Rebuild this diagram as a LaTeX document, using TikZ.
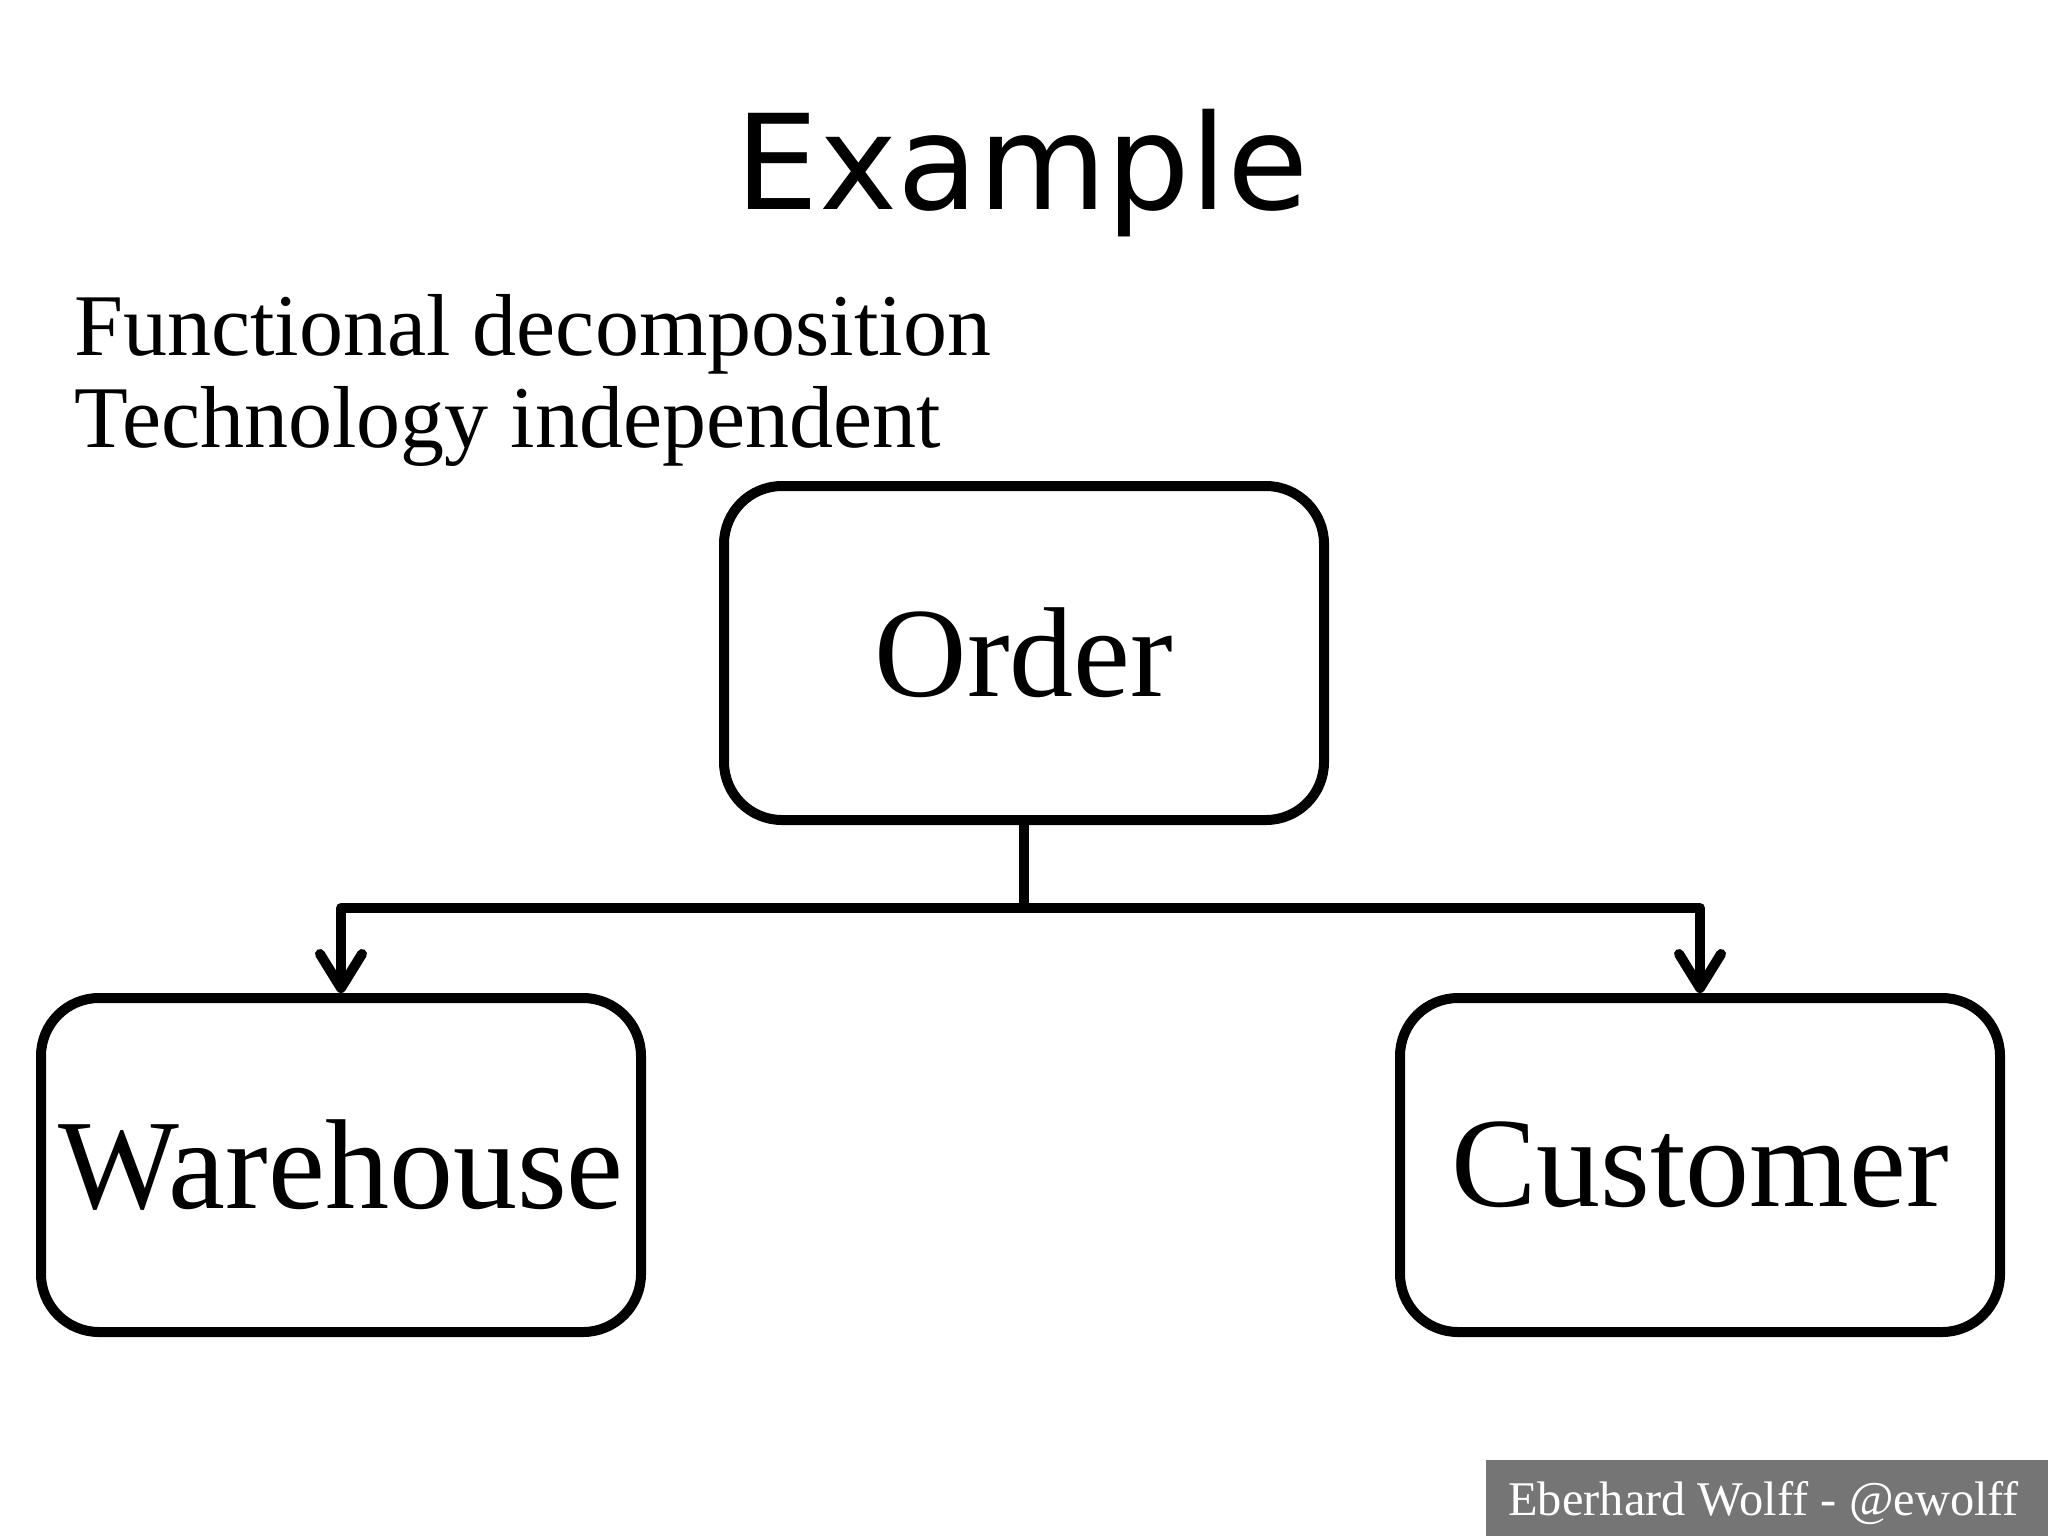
\documentclass[tikz,border=0pt]{standalone}
\usepackage{fontspec}
\setmainfont{Liberation Serif}
\newfontfamily\titlefont{DejaVu Sans}
\usetikzlibrary{arrows.meta,shadows}
\begin{document}
\begin{tikzpicture}[
	x=0.5pt, y=-0.5pt,
	line join=round, line cap=round,
	title/.style={font=\titlefont\fontsize{66}{80}\selectfont, inner sep=0pt},
	bullet/.style={font=\fontsize{44}{52}\selectfont, inner sep=0pt, anchor=base west},
	module/.style={draw, line width=5pt, rounded corners=29pt, fill=white,
		minimum width=300pt, minimum height=167pt, inner sep=0pt,
		font=\fontsize{64}{72}\selectfont,
		drop shadow={shadow xshift=1.2pt, shadow yshift=-1.2pt, opacity=0.25, fill=black}},
	uses/.style={line width=5pt, -{Straight Barb[length=17pt, width=21pt, line width=5pt, round]}},
	]
	\useasboundingbox (0,0) rectangle (2048,1536);
	\node[title, anchor=base] (head) at (1022,209) {Example};
	\node[bullet] (func) at (74,355) {Functional decomposition};
	\node[bullet] (tech) at (74,447) {Technology independent};
	\node[module] (order) at (1024,653) {Order};
	\node[module] (warehouse) at (341,1165) {Warehouse};
	\node[module] (customer) at (1700,1165) {Customer};
	\coordinate (split) at (1024,908);
	\draw[line width=5pt] (order.south) -- (split);
	\draw[uses] (split) -| (warehouse.north);
	\draw[uses] (split) -| (customer.north);
	\fill[black!54] (1486,1460) rectangle (2048,1536);
	\node[anchor=base west, inner sep=0pt, text=white, font=\fontsize{24.2}{28}\selectfont] (credit) at (1508,1515) {Eberhard Wolff - @ewolff};
\end{tikzpicture}
\end{document}
